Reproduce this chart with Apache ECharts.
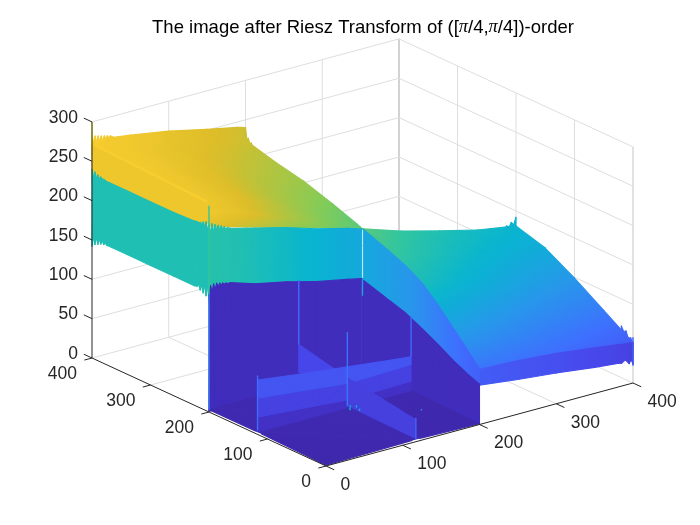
<!DOCTYPE html>
<html>
<head>
<meta charset="utf-8">
<style>html,body{margin:0;padding:0;background:#fff}#main{width:700px;height:525px}</style>
<script src="https://cdn.jsdelivr.net/npm/echarts@6/dist/echarts.min.js"></script>
</head>
<body>
<div id="main"></div>
<script>
var xTicks = [0, 100, 200, 300, 400];
var yTicks = [0, 100, 200, 300, 400];
var zTicks = [0, 50, 100, 150, 200, 250, 300];

// upper plateau, x 0-200, y 200-400
var plateauX = [0, 50, 100, 150, 200];
var plateauY = [400, 350, 300, 250, 210, 200];
var plateauZ = [
	[258, 250, 241, 232, 224],
	[256, 248, 236, 223, 214],
	[254, 245, 230, 215, 206],
	[252, 242, 225, 207, 194],
	[250, 238, 217, 200, 183],
	[236, 222, 208, 195, 180]
];
// right plateau, x 200-400, y 0-200
var rightX = [200, 250, 300, 350, 400];
var rightY = [200, 150, 100, 50, 0];
var rightZ = [
	[180, 164, 151, 139, 131],
	[166, 150, 136, 126, 120],
	[146, 130, 118, 107, 99],
	[112, 100, 90, 82, 75],
	[70, 68, 64, 58, 51]
];
// back strip of the upper plateau (y = 400)
var backX = [0, 2, 4, 6, 8, 10, 12, 14, 16, 18, 20, 22, 24, 28, 50, 100, 150, 190, 200];
var backHigh = [282, 274, 281, 273, 280, 273, 279, 272, 278, 274, 277, 274, 276, 273, 270, 262, 251, 243, 240];
var backLow = [258, 258, 257, 257, 256, 256, 255, 255, 254, 254, 253, 253, 252, 252, 250, 241, 232, 226, 224];
// teeth at the corner x = 200, y = 400
var cornerY = [400, 397.5, 395, 392.5, 390, 387.5, 385, 382.5, 380, 375, 370];
var cornerHigh = [240, 226, 228, 222, 224, 219, 221, 217, 218, 215, 213];
var cornerLow = [212, 212, 212, 212, 212, 212, 212, 212, 212, 212, 212];
// wall x = 0, y 200-400
var leftY = [400, 397.5, 395, 392.5, 390, 387.5, 385, 382.5, 380, 377.5, 375, 370, 340, 300, 260, 225, 220, 217.5, 215, 212.5, 210, 207.5, 205, 202.5, 200];
var leftLow = [142, 154, 146, 155, 148, 155, 150, 155, 151, 154, 152, 152, 152, 152, 152, 152, 153, 156, 150, 157, 148, 158, 146, 159, 140];
var leftHigh = [240, 230, 238, 231, 236, 232, 235, 233, 234, 233, 233, 233, 233, 233, 233, 234, 235, 234, 236, 234, 238, 233, 240, 232, 236];
var orangeY = [400, 300, 204];
var orangeLow = [225, 225, 225];
var orangeHigh = [273, 270, 266];
var creaseY = [396, 204];
var creaseLow = [271, 265];
var creaseHigh = [273, 267];
// wall y = 200, x 0-200
var frontX = [0, 2, 4, 6, 8, 10, 12, 14, 16, 18, 20, 22, 24, 28, 60, 100, 140, 180, 199];
var frontLow = [150, 160, 152, 161, 154, 161, 156, 160, 157, 159, 157, 158, 157, 157, 147, 139, 129, 121, 117];
var frontHigh = [240, 228, 238, 229, 236, 230, 234, 229, 232, 228, 230, 227, 228, 226, 218, 208, 196, 186, 180];
var frontTone = [155, 155, 155, 155, 155, 155, 155, 155, 154, 154, 154, 154, 154, 153, 147, 139, 129, 121, 117];
// wall x = 200, y 0-200
var sideY = [198, 156, 125, 98, 70, 42, 20, 0];
var sideHigh = [180, 168, 158, 146, 127, 105, 87, 70];
var sideLow = [117, 107, 100, 90, 79, 67, 59, 53];
// front strip of the right plateau (y = 0)
var rimX = [200, 250, 300, 350, 380, 385, 390, 395, 398, 400];
var rimHigh = [70, 68, 64, 58, 54, 53, 52, 52, 51, 51];
var rimLow = [50, 44, 39, 33, 30, 29, 32, 26, 31, 24];
var rimTone = [50, 44, 39, 33, 30, 29, 28, 27, 26, 25];
var rimTopX = [375, 380, 385, 388, 391, 394, 397, 400];
var rimTopHigh = [131, 132, 131, 134, 132, 137, 133, 142];
var rimTopLow = [126, 126, 126, 126, 126, 126, 126, 126];
var rimEndY = [20, 16, 12, 8, 4, 0];
var rimEndHigh = [66, 60, 62, 54, 56, 50];
var rimEndLow = [40, 40, 40, 36, 30, 24];
// the cross in the low corner
var crossX = [0, 40, 80, 117];
var crossHigh = [69, 64, 59, 55];
var crossMid = [46, 42, 38, 34];
var crossLow = [22, 19, 16, 13];
var crossRX = [117, 160, 200];
var crossRHigh = [55, 50, 46];
var crossRMid = [34, 35, 36];
var crossRLow = [13, 14, 15];
var crossBackY = [200, 160, 117];
var crossBackHigh = [55, 48, 41];
var crossBackLow = [20, 25, 30];
var crossFrontY = [117, 60, 0];
var crossFrontHigh = [41, 35, 28];
var crossFrontLow = [6, 5, 4];
var floorX = [0, 117, 200];
var floorY = [200, 117, 0];
var floorZ = [[3, 3, 3], [3, 4, 3], [1, 3, 1]];
// thin spikes: x, y, z from, z to, colour value
var spikes = [
	[0, 400, 270, 300, 290],
	[0, 200, 3, 150, 75],
	[0, 200, 150, 262, 165],
	[117, 200, 55, 137, 62],
	[200, 117, 46, 97, 62],
	[200, 200, 95, 117, 105],
	[0, 117, 5, 75, 62],
	[117, 0, 3, 30, 55],
	[117, 117, 5, 99, 70],
	[400, 0, 22, 58, 50]
];
var specks = [[117, 112, 5, 8, 130], [122, 108, 5, 8, 130], [112, 106, 5, 8, 130], [120, 100, 4, 7, 110], [170, 60, 5, 7, 80]];
// small white gaps on the floor edge: x, y, z, x, y, z
var notches = [[0, 112, 1, 0, 121, 1], [113, 0, 1, 122, 0, 1]];

var colorMax = 295;
var parulaStops = [
	[0, .2422, .1504, .6603], [.048, .2647, .1978, .7952], [.111, .2803, .2782, .9221], [.222, .2440, .4358, .9988],
	[.333, .1540, .5902, .9218], [.444, .0297, .7082, .8163], [.556, .1938, .7758, .6251], [.667, .5044, .7993, .3480],
	[.778, .8634, .7406, .1596], [.889, .9892, .8136, .1885], [1, .9769, .9839, .0805]
];

function project(x, y, z) {
	return [326 + .7675 * x - .585 * y, 466 - .2075 * x - .27 * y - .787 * z];
}
function parula(z) {
	var t = Math.max(0, Math.min(1, z / colorMax));
	for (var i = 1; i < parulaStops.length; i++) {
		if (t <= parulaStops[i][0]) {
			var a = parulaStops[i - 1], b = parulaStops[i], f = (t - a[0]) / (b[0] - a[0]);
			return 'rgb(' + [1, 2, 3].map(function (k) { return Math.round(255 * (a[k] + (b[k] - a[k]) * f)); }).join(',') + ')';
		}
	}
	return 'rgb(249,251,21)';
}

var quads = [];
function addSurface(xs, ys, zs) {
	for (var i = 0; i < ys.length - 1; i++) {
		for (var j = 0; j < xs.length - 1; j++) {
			quads.push([xs[j], ys[i], zs[i][j], xs[j + 1], ys[i], zs[i][j + 1], xs[j + 1], ys[i + 1], zs[i + 1][j + 1], xs[j], ys[i + 1], zs[i + 1][j],
				zs[i][j], zs[i][j + 1], zs[i + 1][j + 1], zs[i + 1][j]]);
		}
	}
}
// c is the colour value: an array along the path, a number, or left out to use low
function addWall(xs, ys, low, high, c) {
	var n = Math.max(xs.length || 0, ys.length || 0);
	function X(i) { return xs.length ? xs[i] : xs; }
	function Y(i) { return ys.length ? ys[i] : ys; }
	function C(i) { return c === undefined ? low[i] : (c.length ? c[i] : c); }
	for (var i = 0; i < n - 1; i++) {
		quads.push([X(i), Y(i), low[i], X(i + 1), Y(i + 1), low[i + 1], X(i + 1), Y(i + 1), high[i + 1], X(i), Y(i), high[i],
			C(i), C(i + 1), C(i + 1), C(i)]);
	}
}
function flat(arr, v) { return arr.map(function () { return v; }); }

// back to front
addWall(backX, 400, backLow, backHigh);
addWall(200, cornerY, cornerLow, cornerHigh, 222);
addSurface(plateauX, plateauY, plateauZ);
addWall(0, orangeY, orangeLow, orangeHigh, 248);
addWall(0, creaseY, creaseLow, creaseHigh, 258);
addWall(0, leftY, leftLow, leftHigh, 150);
addWall(rimTopX, 200, rimTopLow, rimTopHigh, 130);
addWall(400, rimEndY, rimEndLow, rimEndHigh, 60);
addSurface(rightX, rightY, rightZ);
addWall(rimX, 0, rimLow, rimHigh, rimTone);
addWall(frontX, 200, frontLow, frontHigh, frontTone);
addWall(frontX, 200, flat(frontX, 1), frontLow, 8);
addWall(200, [200].concat(sideY), [1].concat(flat(sideY, 1)), [117].concat(sideLow), 8);
addWall(200, sideY, sideLow, sideHigh);
addSurface(floorX, floorY, floorZ);
addWall(crossRX, 117, flat(crossRX, 3), crossRLow, 12);
addWall(crossRX, 117, crossRLow, crossRMid, 27);
addWall(crossRX, 117, crossRMid, crossRHigh, 44);
addWall(117, crossBackY, flat(crossBackY, 3), crossBackLow, 12);
addWall(117, crossBackY, crossBackLow, crossBackHigh, 32);
addWall(117, crossFrontY, crossFrontLow, crossFrontHigh, 26);
addWall(crossX, 117, flat(crossX, 3), crossLow, 12);
addWall(crossX, 117, crossLow, crossMid, 27);
addWall(crossX, 117, crossMid, crossHigh, 44);

// box lines: x1,y1,z1,x2,y2,z2,kind (0 grid, 1 back edge)
var gridLines = [];
xTicks.slice(1).forEach(function (x) {
	gridLines.push([x, 0, 0, x, 400, 0, 0]);
	gridLines.push([x, 400, 0, x, 400, 300, x == 400 ? 1 : 0]);
});
yTicks.slice(1).forEach(function (y) {
	gridLines.push([0, y, 0, 400, y, 0, 0]);
	gridLines.push([400, y, 0, 400, y, 300, y == 400 ? 1 : 0]);
});
gridLines.push([400, 0, 0, 400, 0, 300, 1]);
zTicks.slice(1).forEach(function (z) {
	gridLines.push([0, 400, z, 400, 400, z, 0]);
	gridLines.push([400, 0, z, 400, 400, z, 0]);
});

var axisLines = [[0, 0, 0, 400, 0, 0], [0, 0, 0, 0, 400, 0], [0, 400, 0, 0, 400, 300]];
xTicks.forEach(function (x) { axisLines.push([x, 0, 0, x, -14, 0]); });
yTicks.forEach(function (y) { axisLines.push([0, y, 0, -10, y, 0]); });
zTicks.forEach(function (z) { axisLines.push([0, 400, z, 0, 414, z]); });

// labels: x,y,z then pixel offset and side
var labels = [];
xTicks.forEach(function (x) { labels.push({ p: [x, 0, 0], dx: 14.5, dy: 19, align: 'left', text: String(x) }); });
yTicks.forEach(function (y) { labels.push({ p: [0, y, 0], dx: -15, dy: 16.5, align: 'right', text: String(y) }); });
zTicks.forEach(function (z) { labels.push({ p: [0, 400, z], dx: -14, dy: -4, align: 'right', text: String(z) }); });

function lineItem(api, a, b, style) {
	var p1 = api.coord(project(a[0], a[1], a[2])), p2 = api.coord(project(b[0], b[1], b[2]));
	return { type: 'line', shape: { x1: p1[0], y1: p1[1], x2: p2[0], y2: p2[1] }, style: style, silent: true };
}
// one triangle, the colour plane through its corners turned into a gradient line in pixels
function triangle(p, c) {
	var cMin = Math.min(c[0], c[1], c[2]), cMax = Math.max(c[0], c[1], c[2]);
	var fill = parula((c[0] + c[1] + c[2]) / 3);
	var ux = p[1][0] - p[0][0], uy = p[1][1] - p[0][1], vx = p[2][0] - p[0][0], vy = p[2][1] - p[0][1];
	var det = ux * vy - uy * vx;
	if (cMax - cMin > .2 && Math.abs(det) > .5) {
		var dc1 = c[1] - c[0], dc2 = c[2] - c[0];
		var gx = (dc1 * vy - dc2 * uy) / det, gy = (dc2 * ux - dc1 * vx) / det, g2 = gx * gx + gy * gy;
		var s = (cMin - c[0]) / g2, e = (cMax - c[0]) / g2, stops = [];
		for (var k = 0; k <= 4; k++) stops.push({ offset: k / 4, color: parula(cMin + (cMax - cMin) * k / 4) });
		fill = new echarts.graphic.LinearGradient(p[0][0] + s * gx, p[0][1] + s * gy, p[0][0] + e * gx, p[0][1] + e * gy, stops, true);
	}
	return { type: 'polygon', shape: { points: p }, style: { fill: fill, stroke: fill, lineWidth: 1.1, lineJoin: 'round' }, silent: true };
}
function renderQuad(params, api) {
	var pts = [], c = [];
	for (var i = 0; i < 4; i++) {
		pts.push(api.coord(project(api.value(i * 3), api.value(i * 3 + 1), api.value(i * 3 + 2))));
		c.push(api.value(12 + i));
	}
	return {
		type: 'group', silent: true,
		children: [triangle([pts[0], pts[1], pts[2]], [c[0], c[1], c[2]]), triangle([pts[0], pts[2], pts[3]], [c[0], c[2], c[3]])]
	};
}

var option = {
	animation: false,
	backgroundColor: '#fff',
	title: {
		text: 'The image after Riesz Transform of ([{pi|π}/4,{pi|π}/4])-order',
		left: 358,
		textAlign: 'center',
		top: 13,
		textStyle: {
			fontFamily: 'Liberation Sans', fontSize: 18.5, fontWeight: 'normal', color: '#000',
			rich: { pi: { fontFamily: 'Liberation Serif', fontStyle: 'italic', fontSize: 18.5, color: '#000' } }
		}
	},
	grid: { left: 0, right: 0, top: 0, bottom: 0 },
	xAxis: { type: 'value', min: 0, max: 700, show: false },
	yAxis: { type: 'value', min: 0, max: 525, inverse: true, show: false },
	series: [{
		type: 'custom', silent: true, clip: false, z: 1,
		data: gridLines,
		renderItem: function (params, api) {
			var edge = api.value(6) == 1;
			return lineItem(api, [api.value(0), api.value(1), api.value(2)], [api.value(3), api.value(4), api.value(5)],
				{ stroke: edge ? '#c4c4c4' : '#dedede', lineWidth: 1 });
		}
	}, {
		type: 'custom', silent: true, clip: false, z: 2,
		data: quads,
		renderItem: renderQuad
	}, {
		type: 'custom', silent: true, clip: false, z: 3,
		data: spikes.concat(specks),
		renderItem: function (params, api) {
			var x = api.value(0), y = api.value(1);
			return lineItem(api, [x, y, api.value(2)], [x, y, api.value(3)], { stroke: parula(api.value(4)), lineWidth: 1.4 });
		}
	}, {
		type: 'custom', silent: true, clip: false, z: 3,
		data: notches,
		renderItem: function (params, api) {
			return lineItem(api, [api.value(0), api.value(1), api.value(2)], [api.value(3), api.value(4), api.value(5)],
				{ stroke: '#fff', lineWidth: 2.5 });
		}
	}, {
		type: 'custom', silent: true, clip: false, z: 4,
		data: axisLines,
		renderItem: function (params, api) {
			return lineItem(api, [api.value(0), api.value(1), api.value(2)], [api.value(3), api.value(4), api.value(5)],
				{ stroke: '#262626', lineWidth: 1 });
		}
	}, {
		type: 'custom', silent: true, clip: false, z: 5,
		data: labels.map(function (l) { return l.p; }),
		renderItem: function (params, api) {
			var l = labels[params.dataIndex];
			var p = api.coord(project(api.value(0), api.value(1), api.value(2)));
			return {
				type: 'text', silent: true,
				style: {
					x: p[0] + l.dx, y: p[1] + l.dy, text: l.text, align: l.align, verticalAlign: 'middle',
					fill: '#262626', fontFamily: 'Liberation Sans', fontSize: 17.5
				}
			};
		}
	}]
};
var myChart = echarts.init(document.getElementById('main'));
myChart.setOption(option);
</script>
</body>
</html>
